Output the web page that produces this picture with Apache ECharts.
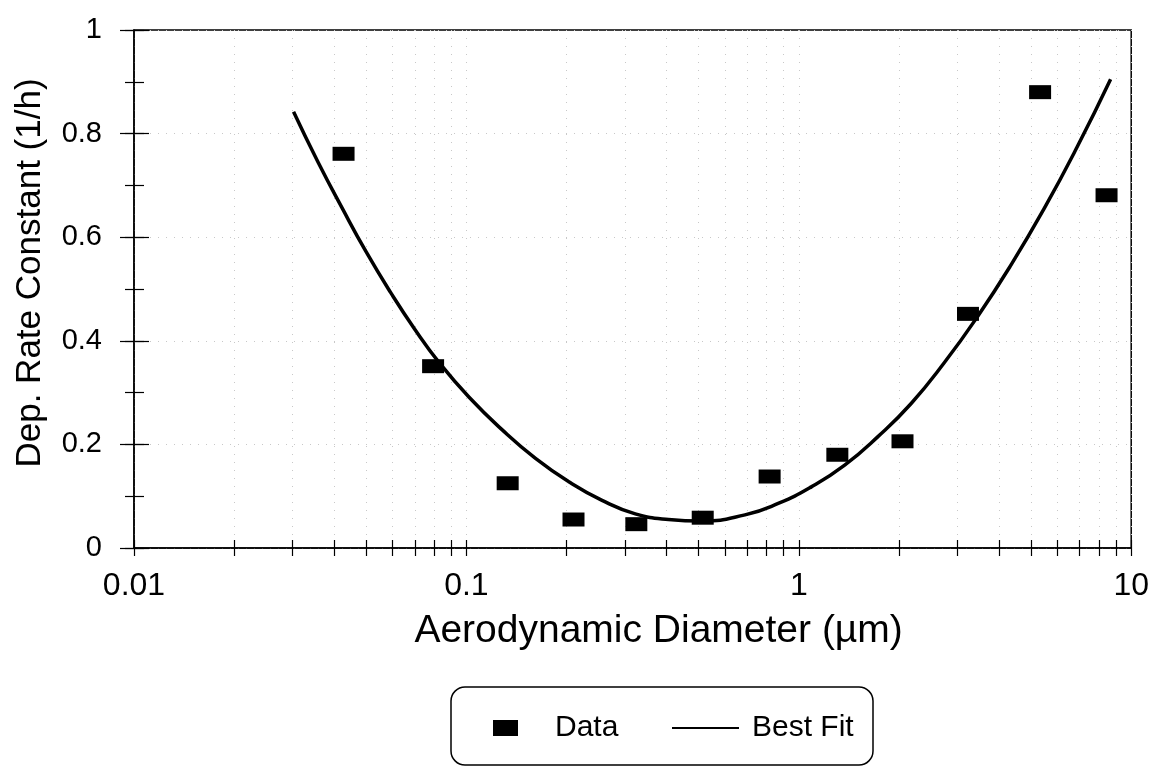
<!DOCTYPE html>
<html>
<head>
<meta charset="utf-8">
<title>Dep. Rate Constant</title>
<script src="https://cdn.jsdelivr.net/npm/echarts@6/dist/echarts.min.js"></script>
<style>
    html, body { margin: 0; padding: 0; background: #fff; }
    #chart { width: 1152px; height: 768px; }
</style>
</head>
<body>
<div id="chart"></div>
<script>
    // measured points (diameter in µm, rate in 1/h)
    let dataX = [0.0427, 0.0794, 0.1331, 0.210, 0.3245, 0.514, 0.817, 1.306, 2.051, 3.228, 5.32, 8.43]
    let dataY = [0.761, 0.351, 0.125, 0.055, 0.046, 0.0585, 0.138, 0.180, 0.206, 0.452, 0.880, 0.681]

    // best fit curve
    let fitX = [0.0302, 0.0357, 0.0423, 0.0500, 0.0592, 0.0700, 0.0828, 0.1019, 0.1282, 0.1614, 0.2032, 0.2559,
        0.3222, 0.4055, 0.5105, 0.6887, 0.867, 1.091, 1.374, 1.73, 2.178, 2.742, 3.451, 4.345, 5.470, 6.887, 8.67]
    let fitY = [0.842, 0.746, 0.656, 0.571, 0.493, 0.422, 0.358, 0.291, 0.228, 0.173, 0.128, 0.092,
        0.066, 0.055, 0.052, 0.064, 0.086, 0.118, 0.160, 0.215, 0.279, 0.358, 0.447, 0.546, 0.655, 0.775, 0.905]

    let xTicks = [0.01, 0.02, 0.03, 0.04, 0.05, 0.06, 0.07, 0.08, 0.09,
        0.1, 0.2, 0.3, 0.4, 0.5, 0.6, 0.7, 0.8, 0.9,
        1, 2, 3, 4, 5, 6, 7, 8, 9, 10]
    let xLabels = [0.01, 0.1, 1, 10]

    let font = 'Liberation Sans, Arial, sans-serif'
    let dots = { color: '#c8c8c8', width: 1, type: [1, 7] }

    let chart = echarts.init(document.getElementById('chart'), null, { renderer: 'canvas' })

    let option = {
        animation: false,
        backgroundColor: '#fff',
        textStyle: { fontFamily: font, color: '#000' },
        grid: {
            left: 134, right: 18, top: 30, bottom: 220,
            show: true, borderColor: '#000', borderWidth: 1.5
        },
        legend: [
            {
                data: ['Data'],
                left: 488, top: 708,
                icon: 'rect',
                itemWidth: 25, itemHeight: 16,
                selectedMode: false,
                textStyle: { fontSize: 30, fontFamily: font, color: '#000', padding: [0, 0, 12, 32] }
            },
            {
                data: ['Best Fit'],
                left: 667, top: 708,
                icon: 'rect',
                itemWidth: 67, itemHeight: 2,
                selectedMode: false,
                textStyle: { fontSize: 30, fontFamily: font, color: '#000', padding: [0, 0, 12, 8] }
            }
        ],
        graphic: [{
            type: 'rect',
            shape: { x: 451, y: 687, width: 422, height: 78, r: 14 },
            style: { fill: 'none', stroke: '#000', lineWidth: 1.5 }
        }],
        xAxis: [
            {
                type: 'log', logBase: 10, min: 0.01, max: 10,
                position: 'bottom',
                name: 'Aerodynamic Diameter (µm)',
                nameLocation: 'middle', nameGap: 64,
                nameTextStyle: { fontSize: 39, fontFamily: font, color: '#000', padding: [0, 0, 0, 52] },
                axisLine: { onZero: false, lineStyle: { color: '#000', width: 1.5 } },
                axisTick: { show: true, inside: false, length: 8, customValues: xTicks, lineStyle: { color: '#000', width: 1.2 } },
                axisLabel: {
                    customValues: xLabels, margin: 22, fontSize: 32, fontFamily: font, color: '#000',
                    formatter: v => String(v)
                },
                splitLine: { show: true, lineStyle: dots },
                minorTick: { show: false }
            },
            {
                type: 'log', logBase: 10, min: 0.01, max: 10,
                position: 'bottom',
                axisLine: { show: false },
                axisTick: { show: true, inside: true, length: 8, customValues: xTicks, lineStyle: { color: '#000', width: 1.2 } },
                axisLabel: { show: false },
                splitLine: { show: false }
            }
        ],
        yAxis: [
            {
                type: 'value', min: 0, max: 1, interval: 0.2,
                position: 'left',
                name: 'Dep. Rate Constant (1/h)',
                nameLocation: 'middle', nameGap: 86, nameRotate: 90,
                nameTextStyle: { fontSize: 35, fontFamily: font, color: '#000', padding: [0, 0, 0, 32] },
                axisLine: { show: true, onZero: false, lineStyle: { color: '#000', width: 1.5 } },
                axisTick: { show: true, inside: false, length: 14, lineStyle: { color: '#000', width: 1.2 } },
                axisLabel: {
                    margin: 32, fontSize: 29, fontFamily: font, color: '#000', padding: [0, 0, 10, 0],
                    formatter: v => String(Math.round(v * 10) / 10)
                },
                splitLine: { show: true, lineStyle: dots }
            },
            {
                type: 'value', min: 0, max: 1, interval: 0.2,
                position: 'left',
                axisLine: { show: false },
                axisTick: { show: true, inside: true, length: 15, lineStyle: { color: '#000', width: 1.2 } },
                axisLabel: { show: false },
                splitLine: { show: false }
            },
            {
                type: 'value', min: 0, max: 1, interval: 0.1,
                position: 'left',
                axisLine: { show: false },
                axisTick: { show: true, inside: false, length: 9, lineStyle: { color: '#000', width: 1.2 } },
                axisLabel: { show: false },
                splitLine: { show: false }
            },
            {
                type: 'value', min: 0, max: 1, interval: 0.1,
                position: 'left',
                axisLine: { show: false },
                axisTick: { show: true, inside: true, length: 10, lineStyle: { color: '#000', width: 1.2 } },
                axisLabel: { show: false },
                splitLine: { show: false }
            }
        ],
        series: [
            {
                name: 'Best Fit',
                type: 'line',
                xAxisIndex: 0, yAxisIndex: 0,
                data: fitX.map((x, i) => [x, fitY[i]]),
                smooth: 0.5,
                symbol: 'none',
                lineStyle: { color: '#000', width: 3.5 },
                itemStyle: { color: '#000' },
                z: 3
            },
            {
                name: 'Data',
                type: 'scatter',
                xAxisIndex: 0, yAxisIndex: 0,
                data: dataX.map((x, i) => [x, dataY[i]]),
                symbol: 'rect',
                symbolSize: [22, 14],
                itemStyle: { color: '#000', opacity: 1 },
                z: 4
            }
        ]
    }

    chart.setOption(option)
</script>
</body>
</html>
